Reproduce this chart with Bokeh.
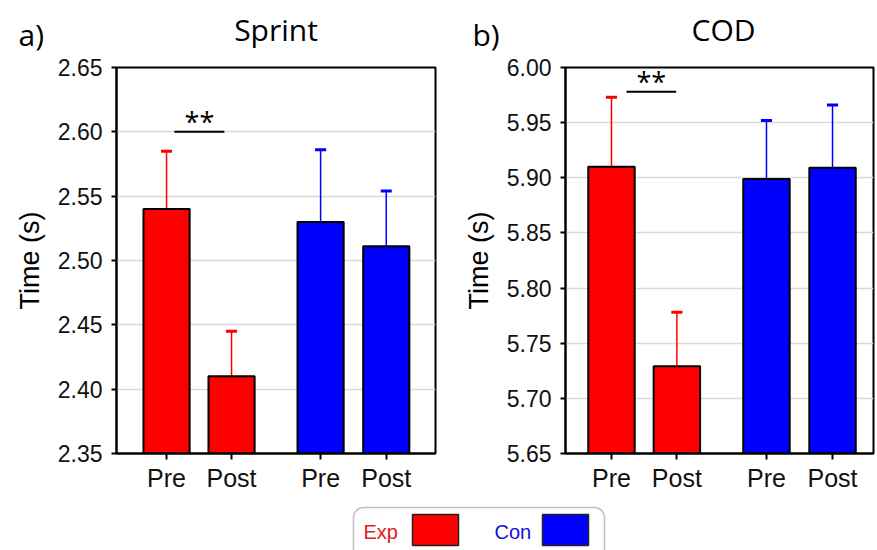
from bokeh.plotting import figure
from bokeh.layouts import column, row
from bokeh.models import (Range1d, FixedTicker, PrintfTickFormatter,
                          BoxAnnotation, ColumnDataSource)
from bokeh.core.properties import value
from bokeh.embed import file_html
from bokeh.resources import INLINE

# ---------------- data ----------------
conditions = ["Pre", "Post", "Pre", "Post"]
groups = ["Exp", "Exp", "Con", "Con"]
positions = [1.0, 2.0, 3.37, 4.38]
group_colors = {"Exp": "#ff0000", "Con": "#0000ff"}
legend_labels = ["Exp", "Con"]
legend_text_colors = ["#e3191c", "#1010d8"]
panel_letters = ["a)", "b)"]
panel_titles = ["Sprint", "COD"]

sprint_mean = [2.540, 2.410, 2.530, 2.511]
sprint_sd = [0.045, 0.035, 0.056, 0.043]
sprint_ticks = [2.35, 2.40, 2.45, 2.50, 2.55, 2.60, 2.65]
sprint_sig_x = [1.12, 1.89]
sprint_sig_y = 2.60

cod_mean = [5.910, 5.729, 5.899, 5.909]
cod_sd = [0.063, 0.049, 0.053, 0.057]
cod_ticks = [5.65, 5.70, 5.75, 5.80, 5.85, 5.90, 5.95, 6.00]
cod_sig_x = [1.23, 1.99]
cod_sig_y = 5.978

# ---------------- layout constants ----------------
SANS = "Liberation Sans"
TITLE_FONT = "Open Sans"
TOTAL_W = 875
BAND_H = 55          # strip holding panel letters and titles
TOP = 12             # border above each plot frame
FRAME_H = 386
BOTTOM = 42
FIG_H = TOP + FRAME_H + BOTTOM
LEG_H = 550 - BAND_H - FIG_H

PA = dict(frame_w=319, b_left=116, b_right=5, x_range=(0.23, 0.23 + 319 / 65.0))
PB = dict(frame_w=308, b_left=125, b_right=2, x_range=(0.297, 0.297 + 308 / 65.4))


def panel(means, sds, ticks, sig_x, sig_y, x_range, frame_w, b_left, b_right):
    colors = [group_colors[g] for g in groups]
    cap = 0.085
    src = ColumnDataSource(dict(
        x=positions, mean=means, upper=[m + s for m, s in zip(means, sds)],
        color=colors,
        cl=[x - cap for x in positions], cr=[x + cap for x in positions],
    ))
    p = figure(width=b_left + frame_w + b_right, height=FIG_H,
               x_range=Range1d(*x_range),
               y_range=Range1d(ticks[0], ticks[-1]),
               output_backend="svg", toolbar_location=None,
               min_border_left=b_left, min_border_right=b_right,
               min_border_top=TOP, min_border_bottom=BOTTOM)
    p.background_fill_color = "white"
    p.border_fill_color = "white"
    p.outline_line_color = "black"
    p.outline_line_width = 2
    p.outline_line_alpha = 1

    p.xgrid.visible = False
    p.ygrid.ticker = FixedTicker(ticks=ticks)
    p.ygrid.grid_line_color = "#d9d9d9"
    p.ygrid.grid_line_width = 1.5

    # error bars (upper only)
    p.segment(x0="x", y0="mean", x1="x", y1="upper", line_color="color",
              line_width=1.5, source=src)
    p.segment(x0="cl", y0="upper", x1="cr", y1="upper", line_color="color",
              line_width=3, source=src)
    # bars
    p.vbar(x="x", top="mean", bottom=ticks[0], width=0.71, fill_color="color",
           line_color="black", line_width=2, source=src)
    # significance
    p.line(x=sig_x, y=[sig_y, sig_y], line_color="black", line_width=2)
    p.text(x=[sum(sig_x) / 2], y=[sig_y], text=["**"], text_align="center",
           text_baseline="alphabetic", y_offset=-10, text_color="black",
           text_font=value(TITLE_FONT), text_font_size="27px")

    ya = p.yaxis[0]
    ya.ticker = FixedTicker(ticks=ticks)
    ya.formatter = PrintfTickFormatter(format="%.2f")
    ya.axis_label = "Time (s)"
    ya.axis_label_text_font = SANS
    ya.axis_label_text_font_style = "normal"
    ya.axis_label_text_font_size = "27px"
    ya.axis_label_text_color = "black"
    ya.axis_label_standoff = 10
    ya.major_label_text_font = SANS
    ya.major_label_text_font_size = "23px"
    ya.major_label_text_color = "#111111"
    ya.major_label_standoff = 9
    ya.major_tick_out = 5
    ya.major_tick_in = 0
    ya.minor_tick_out = 0
    ya.minor_tick_in = 0
    ya.axis_line_width = 2
    ya.major_tick_line_width = 2

    xa = p.xaxis[0]
    xa.ticker = FixedTicker(ticks=positions)
    xa.major_label_overrides = {pos: c for pos, c in zip(positions, conditions)}
    xa.major_label_text_font = SANS
    xa.major_label_text_font_size = "25px"
    xa.major_label_text_color = "#111111"
    xa.major_label_standoff = 4
    xa.major_tick_out = 6
    xa.major_tick_in = 0
    xa.minor_tick_out = 0
    xa.axis_line_width = 2
    xa.major_tick_line_width = 2
    return p


pa = panel(sprint_mean, sprint_sd, sprint_ticks, sprint_sig_x, sprint_sig_y, **PA)
pb = panel(cod_mean, cod_sd, cod_ticks, cod_sig_x, cod_sig_y, **PB)


def blank(width, height):
    f = figure(width=width, height=height, x_range=Range1d(0, width),
               y_range=Range1d(height, 0), output_backend="svg",
               toolbar_location=None, x_axis_type=None, y_axis_type=None,
               min_border_left=0, min_border_right=0, min_border_top=0,
               min_border_bottom=0)
    f.outline_line_color = None
    f.xgrid.visible = False
    f.ygrid.visible = False
    f.background_fill_color = "white"
    f.border_fill_color = "white"
    return f


# ---------------- title strip ----------------
band = blank(TOTAL_W, BAND_H)
a_left = PA["b_left"]
b_left = PA["b_left"] + PA["frame_w"] + PA["b_right"] + PB["b_left"]
frame_left = [a_left, b_left]
frame_mid = [a_left + PA["frame_w"] / 2, b_left + PB["frame_w"] / 2 + 4]
letter_dx = [98, 93]
band.text(x=[fl - d for fl, d in zip(frame_left, letter_dx)], y=[34, 34],
          text=panel_letters, text_font=value(TITLE_FONT),
          text_font_size="30px", text_color="black", text_baseline="middle")
band.text(x=frame_mid, y=[29, 29], text=panel_titles,
          text_font=value(TITLE_FONT), text_font_size="30px",
          text_color="black", text_baseline="middle", text_align="center")

# ---------------- legend ----------------
leg = blank(TOTAL_W, LEG_H)
box_left, box_right = 353, 604
box_top = 507 - BAND_H - FIG_H
leg.add_layout(BoxAnnotation(left=box_left, right=box_right, top=box_top,
                             bottom=LEG_H + 20, fill_color=None, fill_alpha=0,
                             line_color="#333333", line_width=1.5,
                             border_radius=10))
text_x = [363, 494]
sw_left = [412, 542]
sw_w = 46
leg.text(x=text_x, y=[531 - BAND_H - FIG_H] * 2, text=legend_labels,
         text_color=legend_text_colors,
         text_font=value(SANS), text_font_size="20px",
         text_baseline="middle")
leg.quad(left=sw_left, right=[s + sw_w for s in sw_left],
         top=[514 - BAND_H - FIG_H] * 2, bottom=[545 - BAND_H - FIG_H] * 2,
         fill_color=[group_colors[g] for g in legend_labels],
         line_color="#222222", line_width=1.5)

layout = column(band, row(pa, pb), leg)
open("out.html", "w").write(file_html(layout, INLINE))
